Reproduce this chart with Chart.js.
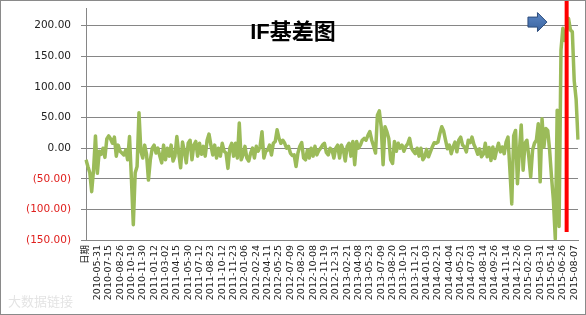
<!DOCTYPE html>
<html><head><meta charset="utf-8">
<script src="https://cdn.jsdelivr.net/npm/chart.js@4/dist/chart.umd.min.js"></script>
<style>
html,body{margin:0;padding:0;background:#fff;}
#wrap{position:relative;width:586px;height:315px;overflow:hidden;}
#title{position:absolute;left:0;width:586px;top:13px;text-align:center;font:bold 22px "Liberation Sans","Noto Sans CJK SC",sans-serif;color:#000;}
#wm{position:absolute;left:8px;top:291px;font:13px "Noto Sans CJK SC",sans-serif;color:#e4e4e4;}
</style></head><body>
<div id="wrap"><canvas id="c" width="586" height="315" style="width:586px;height:315px"></canvas><div id="title">IF基差图</div><div id="wm">大数据链接</div></div>
<script>
// tick labels of the category axis (one every pointsPerLabel points)
const dateLabels = ['日期','2010-05-31','2010-07-15','2010-08-26','2010-10-19','2010-11-30','2011-01-12','2011-03-02','2011-04-15','2011-05-30','2011-07-12','2011-08-23','2011-10-12','2011-11-23','2012-01-06','2012-02-24','2012-04-11','2012-05-25','2012-07-09','2012-08-20','2012-10-08','2012-11-19','2012-12-31','2013-02-21','2013-04-08','2013-05-23','2013-07-09','2013-08-20','2013-10-10','2013-11-21','2014-01-03','2014-02-21','2014-04-04','2014-05-21','2014-07-03','2014-08-14','2014-09-26','2014-11-14','2014-12-26','2015-02-10','2015-03-31','2015-05-14','2015-06-26','2015-08-07'];
const pointsPerLabel = 6;
// IF basis values
const basis = [
-19,-30,-40,-71,-35,20,-41,-5,-10,0,
-15,15,20,15,8,18,-13,5,-5,-8,
-11,-3,-19,19,-50,-125,-40,-30,58,-5,
-16,5,-10,-52,-19,0,5,-8,0,-13,
-24,5,-19,0,-13,5,-21,-13,19,-8,
-32,10,-5,-24,8,13,-19,5,11,-13,
8,-10,3,-13,13,23,5,-11,5,-16,
0,-13,8,-5,-8,-33,0,8,-13,8,
-16,41,-19,-11,3,-16,-21,-8,0,-16,
3,-5,3,27,-16,-5,-3,5,-11,8,
11,30,16,8,13,8,0,3,-8,-12,
-11,-30,-8,3,9,-16,-19,-3,-16,0,
-13,3,-11,-4,0,5,8,-7,-11,0,
-3,-16,0,5,-16,5,-3,-21,3,8,
-13,11,-27,11,0,5,13,16,13,21,
27,13,3,-8,54,61,35,-27,35,27,
16,-19,-25,11,-5,8,0,5,-5,3,
7,16,0,-5,-9,0,-13,0,-19,-14,
-2,-14,-6,2,9,8,10,24,35,28,
13,-1,5,-9,2,10,-6,13,18,5,
2,-6,13,9,18,6,-1,-10,-1,-14,
-10,8,-14,1,-20,2,-17,-3,8,-6,
2,-9,10,18,-35,-91,20,29,-58,-6,
38,-36,8,13,-14,-47,-3,8,13,40,
-55,48,2,32,29,-3,-47,-85,-148,62,
-128,160,196,176,193,212,193,190,110,80,
14
];
// annotations (category index / value)
const redLineIndex = 254;
const redLineBottom = -137;
const arrowTipIndex = 243.6;
const arrowValue = 206;

const labels = basis.map((_, i) => (i % pointsPerLabel === 0 && dateLabels[i / pointsPerLabel] !== undefined) ? dateLabels[i / pointsPerLabel] : '');

const decor = {
  id: 'decor',
  afterDatasetsDraw(chart) {
    const {ctx, scales: {x, y}} = chart;
    ctx.save();
    const rx = x.getPixelForValue(redLineIndex);
    ctx.strokeStyle = '#FF0000';
    ctx.lineWidth = 4;
    ctx.beginPath();
    ctx.moveTo(rx, 0);
    ctx.lineTo(rx, y.getPixelForValue(redLineBottom));
    ctx.stroke();
    const tx = x.getPixelForValue(arrowTipIndex), ty = y.getPixelForValue(arrowValue);
    ctx.beginPath();
    ctx.moveTo(tx - 19, ty - 5);
    ctx.lineTo(tx - 9.5, ty - 5);
    ctx.lineTo(tx - 9.5, ty - 9.5);
    ctx.lineTo(tx, ty);
    ctx.lineTo(tx - 9.5, ty + 9.5);
    ctx.lineTo(tx - 9.5, ty + 5);
    ctx.lineTo(tx - 19, ty + 5);
    ctx.closePath();
    const g = ctx.createLinearGradient(0, ty - 9, 0, ty + 9);
    g.addColorStop(0, '#5B86C4'); g.addColorStop(1, '#3A64A0');
    ctx.fillStyle = g;
    ctx.fill();
    ctx.strokeStyle = '#2C4C7C';
    ctx.lineWidth = 1;
    ctx.stroke();
    ctx.restore();
  },
  afterDraw(chart) {
    const ctx = chart.ctx;
    ctx.save();
    ctx.strokeStyle = '#8a8a8a';
    ctx.lineWidth = 1;
    ctx.strokeRect(0.5, 0.5, 585, 314);
    ctx.restore();
  }
};

new Chart(document.getElementById('c'), {
  type: 'line',
  data: {
    labels: labels,
    datasets: [{
      data: basis,
      borderColor: '#9BBB59',
      borderWidth: 3.5,
      pointRadius: 0,
      tension: 0,
      borderJoinStyle: 'round',
      fill: false
    }]
  },
  options: {
    responsive: false,
    animation: false,
    layout: {padding: {top: 8, right: 8, left: 0, bottom: 0}},
    plugins: {legend: {display: false}, tooltip: {enabled: false}},
    scales: {
      x: {
        type: 'category',
        grid: {display: false, drawTicks: false},
        border: {display: true, color: '#868686'},
        ticks: {
          autoSkip: false, minRotation: 90, maxRotation: 90, padding: 5,
          color: '#222', font: {family: '"DejaVu Sans","Noto Sans CJK SC"', size: 9.5}
        },
        afterFit(s) { s.height = 75; s.paddingLeft = 0; s.paddingRight = 0; }
      },
      y: {
        min: -150, max: 229,
        afterBuildTicks(axis) { axis.ticks = axis.ticks.filter(t => t.value <= 200); },
        grid: {color: '#868686', tickLength: 5, drawTicks: true},
        border: {display: true, color: '#868686'},
        ticks: {
          stepSize: 50, padding: 10,
          color: c => (c.tick && c.tick.value < 0) ? '#E0201E' : '#222',
          font: {family: '"DejaVu Sans"', size: 10.5},
          callback: v => v < 0 ? '(' + Math.abs(v).toFixed(2) + ')' : v.toFixed(2)
        },
        afterFit(s) { s.width = 86; s.paddingTop = 0; s.paddingBottom = 0; }
      }
    }
  },
  plugins: [decor]
});
</script>
</body></html>
